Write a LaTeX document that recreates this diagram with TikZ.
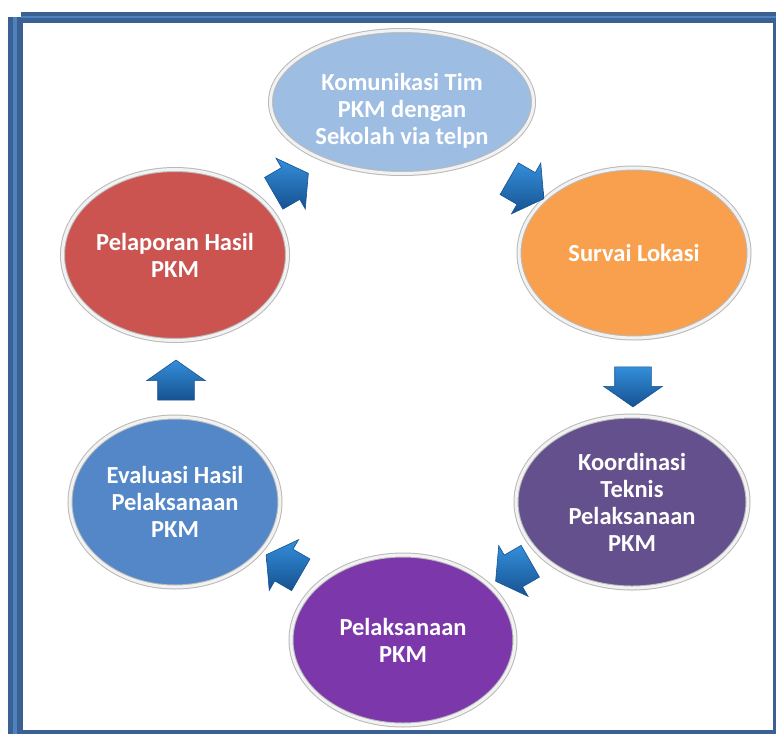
\documentclass[tikz,border=0pt]{standalone}
\usepackage{fontspec}
\setmainfont{Carlito}
\usetikzlibrary{shapes.geometric,shapes.arrows,calc}

\definecolor{framedark}{RGB}{59,97,148}
\definecolor{framelight}{RGB}{79,129,189}
\definecolor{komblue}{RGB}{157,189,226}
\definecolor{survorange}{RGB}{249,160,78}
\definecolor{koorpurple}{RGB}{100,80,140}
\definecolor{plkspurple}{RGB}{124,56,170}
\definecolor{evalblue}{RGB}{83,135,199}
\definecolor{plapred}{RGB}{203,84,81}
\definecolor{arrowdark}{RGB}{22,82,145}
\definecolor{arrowlight}{RGB}{52,142,218}

\begin{document}
\begin{tikzpicture}[x=1pt, y=-1pt,
        stage/.style={ellipse, draw=gray!55, line width=1pt, double=gray!10, double distance=3pt,
            inner sep=0pt, text=white, align=center, font=\fontsize{24.5}{27}\selectfont\bfseries},
        flow/.style={single arrow, single arrow head extend=11pt, single arrow tip angle=110,
            minimum height=40pt, inner xsep=0pt, inner ysep=18pt,
            draw=arrowdark, line width=0.6pt, top color=arrowlight, bottom color=arrowdark}]
            \useasboundingbox (0,0) rectangle (776,734);
            \fill[framedark] (8,17) rectangle (776,734);
            \fill[framedark] (21,12) rectangle (776,17);
            \fill[framelight] (13,17) rectangle (17,734);
            \fill[framelight] (21,16) rectangle (776,18);
            \fill[white] (23,23) rectangle (773,730);

            \node[stage, fill=komblue, minimum width=263pt, minimum height=143pt, text height=88pt] (kom) at (402,102) {Komunikasi Tim\\PKM dengan\\Sekolah via telpn};
            \node[stage, fill=survorange, minimum width=230pt, minimum height=170pt] (surv) at (634,253) {Survai Lokasi};
            \node[stage, fill=koorpurple, minimum width=232pt, minimum height=172pt] (koor) at (632,502) {Koordinasi\\Teknis\\Pelaksanaan\\PKM};
            \node[stage, fill=plkspurple, minimum width=224pt, minimum height=170pt] (plks) at (403,640) {Pelaksanaan\\PKM};
            \node[stage, fill=evalblue, minimum width=210pt, minimum height=170pt] (eval) at (175,502) {Evaluasi Hasil\\Pelaksanaan\\PKM};
            \node[stage, fill=plapred, minimum width=225pt, minimum height=171pt] (plap) at (175,255) {Pelaporan Hasil\\PKM};

            \node[flow, rotate=-30] (a1) at ($(kom)!0.5!(surv)+(3,8)$) {};
            \node[flow, rotate=-90] (a2) at ($(surv)!0.5!(koor)+(0,3)$) {};
            \node[flow, rotate=-150] (a3) at ($(koor)!0.5!(plks)+(1,-3)$) {};
            \node[flow, rotate=150] (a4) at ($(plks)!0.5!(eval)+(0,-3)$) {};
            \node[flow, rotate=90] (a5) at ($(eval)!0.5!(plap)+(1,8)$) {};
            \node[flow, rotate=30] (a6) at ($(plap)!0.5!(kom)+(-3,8)$) {};
        \end{tikzpicture}
\end{document}
